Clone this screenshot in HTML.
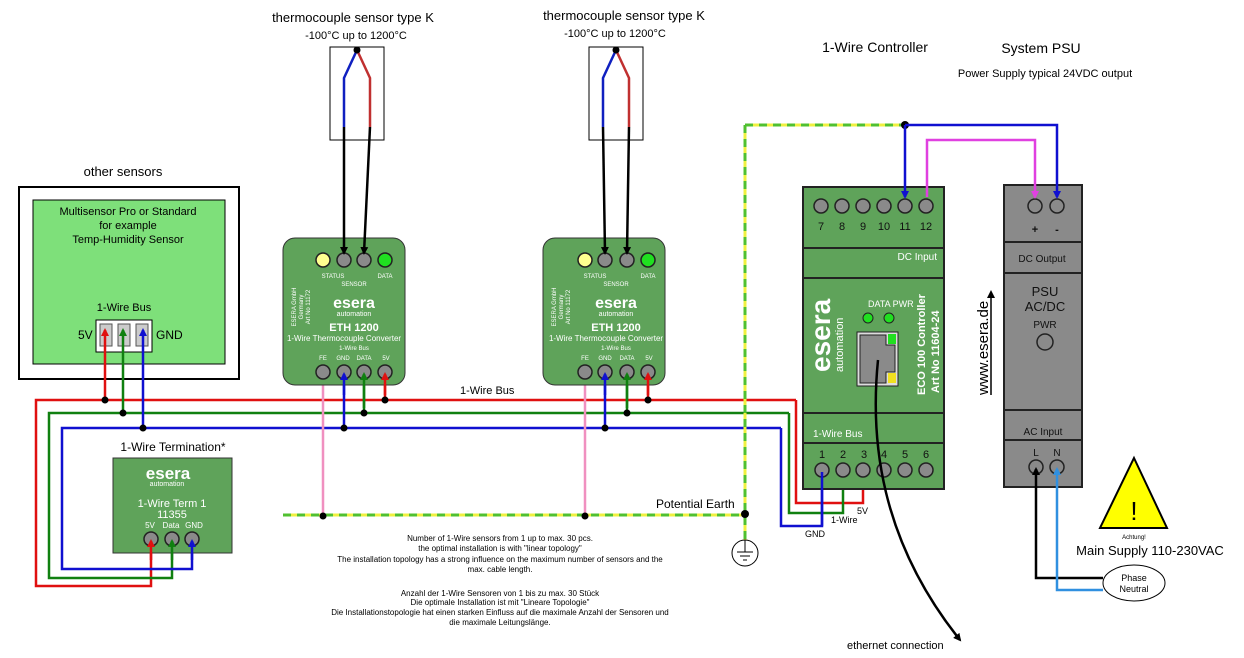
<!DOCTYPE html>
<html><head><meta charset="utf-8"><style>
html,body{margin:0;padding:0;background:#fff;width:1244px;height:658px;overflow:hidden}
svg{display:block;font-family:"Liberation Sans",sans-serif}
</style></head><body>
<svg width="1244" height="658" viewBox="0 0 1244 658" xmlns="http://www.w3.org/2000/svg">
<defs>
<marker id="ah" markerWidth="8" markerHeight="8" refX="6" refY="4" orient="auto" markerUnits="userSpaceOnUse"><path d="M0,0 L8,4 L0,8 z" fill="context-stroke"/></marker>
</defs>
<g font-size="13" text-anchor="middle" fill="#000">
<text x="353" y="22">thermocouple sensor type K</text>
<text x="356" y="39" font-size="11">-100°C up to 1200°C</text>
<text x="624" y="20">thermocouple sensor type K</text>
<text x="615" y="37" font-size="11">-100°C up to 1200°C</text>
<text x="875" y="52" font-size="14">1-Wire Controller</text>
<text x="1041" y="53" font-size="14">System PSU</text>
<text x="1045" y="77" font-size="11">Power Supply typical 24VDC output</text>
<text x="123" y="176">other sensors</text>
</g>
<rect x="19" y="187" width="220" height="192" fill="#fff" stroke="#000" stroke-width="2"/>
<rect x="33" y="200" width="192" height="164" fill="#7ee07a" stroke="#000"/>
<g font-size="11" text-anchor="middle"><text x="128" y="215">Multisensor Pro or Standard</text><text x="128" y="229">for example</text><text x="128" y="243">Temp-Humidity Sensor</text><text x="124" y="311">1-Wire Bus</text></g>
<text x="78" y="339" font-size="12">5V</text><text x="156" y="339" font-size="12">GND</text>
<rect x="96" y="320" width="56" height="32" fill="#fff" stroke="#000"/>
<rect x="100" y="324" width="12" height="22" fill="#ccc" stroke="#555"/><rect x="118" y="324" width="12" height="22" fill="#ccc" stroke="#555"/><rect x="136" y="324" width="12" height="22" fill="#ccc" stroke="#555"/>
<g stroke="#000" fill="#fff"><rect x="330" y="47" width="54" height="93"/><rect x="589" y="47" width="54" height="93"/></g>
<g fill="none" stroke-width="2.5">
<path d="M357,50 L344,78 L344,127" stroke="#1020c0"/><path d="M357,50 L370,78 L370,127" stroke="#c03030"/>
<path d="M616,50 L603,78 L603,127" stroke="#1020c0"/><path d="M616,50 L629,78 L629,127" stroke="#c03030"/>
</g>
<circle cx="357" cy="50" r="3.5" fill="#000"/><circle cx="616" cy="50" r="3.5" fill="#000"/>
<g fill="none" stroke-width="2.5">
<path d="M796,400 L36,400 L36,586 L151,586 L151,547" stroke="#e01010"/>
<path d="M789,413 L49,413 L49,578 L172,578 L172,547" stroke="#108010"/>
<path d="M781,428 L62,428 L62,569 L192,569 L192,547" stroke="#1010d0"/>
<path d="M796,400 L796,503 L863,503 L863,477" stroke="#e01010"/>
<path d="M789,413 L789,513 L843,513 L843,477" stroke="#108010"/>
<path d="M781,428 L781,526 L822,526 L822,477" stroke="#1010d0"/>
<path d="M105,400 L105,338" stroke="#e01010"/><path d="M123,413 L123,338" stroke="#108010"/><path d="M143,428 L143,338" stroke="#1010d0"/>
<path d="M385,400 L385,380" stroke="#e01010"/><path d="M364,413 L364,380" stroke="#108010"/><path d="M344,428 L344,380" stroke="#1010d0"/>
<path d="M648,400 L648,380" stroke="#e01010"/><path d="M627,413 L627,380" stroke="#108010"/><path d="M605,428 L605,380" stroke="#1010d0"/>
<path d="M323,516 L323,380" stroke="#f090c0"/><path d="M585,516 L585,380" stroke="#f090c0"/>
</g>
<text x="460" y="394" font-size="11">1-Wire Bus</text>
<g fill="none" stroke-width="3">
<path d="M283,515 L745,515 M745,125 L745,540 M745,125 L905,125" stroke="#f0f040"/>
<path d="M283,515 L745,515 M745,125 L745,540 M745,125 L905,125" stroke="#50c030" stroke-dasharray="8,6"/>
</g>
<g fill="#000"><circle cx="105" cy="400" r="3.5"/><circle cx="123" cy="413" r="3.5"/><circle cx="143" cy="428" r="3.5"/><circle cx="385" cy="400" r="3.5"/><circle cx="364" cy="413" r="3.5"/><circle cx="344" cy="428" r="3.5"/><circle cx="648" cy="400" r="3.5"/><circle cx="627" cy="413" r="3.5"/><circle cx="605" cy="428" r="3.5"/><circle cx="323" cy="516" r="3.5"/><circle cx="585" cy="516" r="3.5"/><circle cx="745" cy="514" r="4"/><circle cx="905" cy="125" r="4"/></g>
<circle cx="745" cy="553" r="13" fill="#fff" stroke="#000"/>
<path d="M745,540 L745,552 M737,552 L753,552 M740,556 L750,556 M743,560 L747,560" stroke="#000"/>
<text x="656" y="508" font-size="12">Potential Earth</text>
<rect x="283" y="238" width="122" height="147" rx="12" fill="#5fa35a" stroke="#333"/>
<rect x="543" y="238" width="122" height="147" rx="12" fill="#5fa35a" stroke="#333"/>
<g stroke="#222" stroke-width="1.5">
<circle cx="323" cy="260" r="7" fill="#ffff90"/><circle cx="344" cy="260" r="7" fill="#8a8a8a"/><circle cx="364" cy="260" r="7" fill="#8a8a8a"/><circle cx="385" cy="260" r="7" fill="#20e020"/>
<circle cx="585" cy="260" r="7" fill="#ffff90"/><circle cx="605" cy="260" r="7" fill="#8a8a8a"/><circle cx="627" cy="260" r="7" fill="#8a8a8a"/><circle cx="648" cy="260" r="7" fill="#20e020"/>
<circle cx="323" cy="372" r="7" fill="#8a8a8a"/><circle cx="344" cy="372" r="7" fill="#8a8a8a"/><circle cx="364" cy="372" r="7" fill="#8a8a8a"/><circle cx="385" cy="372" r="7" fill="#8a8a8a"/>
<circle cx="585" cy="372" r="7" fill="#8a8a8a"/><circle cx="605" cy="372" r="7" fill="#8a8a8a"/><circle cx="627" cy="372" r="7" fill="#8a8a8a"/><circle cx="648" cy="372" r="7" fill="#8a8a8a"/>
</g>
<g stroke="#000" stroke-width="2.5" marker-end="url(#ah)" fill="none"><path d="M344,127 L344,253"/><path d="M370,127 L364,253"/><path d="M603,127 L605,253"/><path d="M629,127 L627,253"/></g>
<g fill="#fff" text-anchor="middle">
<g font-size="6"><text x="333" y="278">STATUS</text><text x="385" y="278">DATA</text><text x="354" y="286">SENSOR</text><text x="595" y="278">STATUS</text><text x="648" y="278">DATA</text><text x="616" y="286">SENSOR</text>
<text x="354" y="350">1-Wire Bus</text><text x="616" y="350">1-Wire Bus</text>
<text x="323" y="360">FE</text><text x="343" y="360">GND</text><text x="364" y="360">DATA</text><text x="386" y="360">5V</text>
<text x="585" y="360">FE</text><text x="605" y="360">GND</text><text x="627" y="360">DATA</text><text x="649" y="360">5V</text></g>
<text x="354" y="308" font-size="16" font-weight="bold">esera</text><text x="354" y="316" font-size="7">automation</text>
<text x="354" y="331" font-size="11" font-weight="bold">ETH 1200</text><text x="344" y="341" font-size="8">1-Wire Thermocouple Converter</text>
<text x="616" y="308" font-size="16" font-weight="bold">esera</text><text x="616" y="316" font-size="7">automation</text>
<text x="616" y="331" font-size="11" font-weight="bold">ETH 1200</text><text x="606" y="341" font-size="8">1-Wire Thermocouple Converter</text>
</g>
<g fill="#fff" font-size="6" text-anchor="middle"><text transform="translate(296,307) rotate(-90)">ESERA GmbH</text><text transform="translate(303,307) rotate(-90)">Germany</text><text transform="translate(310,307) rotate(-90)">Art No 11172</text>
<text transform="translate(556,307) rotate(-90)">ESERA GmbH</text><text transform="translate(563,307) rotate(-90)">Germany</text><text transform="translate(570,307) rotate(-90)">Art No 11172</text></g>
<text x="173" y="451" font-size="12" text-anchor="middle">1-Wire Termination*</text>
<rect x="113" y="458" width="119" height="95" fill="#5fa35a" stroke="#333"/>
<g fill="#fff" text-anchor="middle"><text x="168" y="479" font-size="17" font-weight="bold">esera</text><text x="167" y="486" font-size="7">automation</text>
<text x="172" y="507" font-size="11">1-Wire Term 1</text><text x="172" y="518" font-size="11">11355</text>
<text x="150" y="528" font-size="8">5V</text><text x="171" y="528" font-size="8">Data</text><text x="194" y="528" font-size="8">GND</text></g>
<g stroke="#222" stroke-width="1.5" fill="#8a8a8a"><circle cx="151" cy="539" r="7"/><circle cx="172" cy="539" r="7"/><circle cx="192" cy="539" r="7"/></g>
<g stroke-width="2.5" marker-end="url(#ah)"><path d="M151,560 L151,541" stroke="#e01010"/><path d="M172,560 L172,541" stroke="#108010"/><path d="M192,560 L192,541" stroke="#1010d0"/>
<path d="M105,338 L105,330" stroke="#e01010"/><path d="M123,338 L123,330" stroke="#108010"/><path d="M143,338 L143,330" stroke="#1010d0"/>
<path d="M344,395 L344,374" stroke="#1010d0"/><path d="M364,408 L364,374" stroke="#108010"/><path d="M385,395 L385,374" stroke="#e01010"/>
<path d="M605,395 L605,374" stroke="#1010d0"/><path d="M627,408 L627,374" stroke="#108010"/><path d="M648,395 L648,374" stroke="#e01010"/></g>
<rect x="803" y="187" width="141" height="302" fill="#5fa35a" stroke="#222" stroke-width="2"/>
<path d="M803,248 H944 M803,278 H944 M803,413 H944 M803,443 H944" stroke="#222" stroke-width="2"/>
<g stroke="#222" stroke-width="1.5" fill="#8a8a8a">
<circle cx="821" cy="206" r="7"/><circle cx="842" cy="206" r="7"/><circle cx="863" cy="206" r="7"/><circle cx="884" cy="206" r="7"/><circle cx="905" cy="206" r="7"/><circle cx="926" cy="206" r="7"/>
<circle cx="822" cy="470" r="7"/><circle cx="843" cy="470" r="7"/><circle cx="863" cy="470" r="7"/><circle cx="884" cy="470" r="7"/><circle cx="905" cy="470" r="7"/><circle cx="926" cy="470" r="7"/>
</g>
<g font-size="11" text-anchor="middle" fill="#111"><text x="821" y="230">7</text><text x="842" y="230">8</text><text x="863" y="230">9</text><text x="884" y="230">10</text><text x="905" y="230">11</text><text x="926" y="230">12</text>
<text x="822" y="458">1</text><text x="843" y="458">2</text><text x="864" y="458">3</text><text x="884" y="458">4</text><text x="905" y="458">5</text><text x="926" y="458">6</text></g>
<g fill="#fff"><text x="937" y="260" font-size="10" text-anchor="end">DC Input</text><text x="813" y="437" font-size="10">1-Wire Bus</text>
<text x="868" y="307" font-size="9">DATA PWR</text>
<text transform="translate(830,372) rotate(-90)" font-size="28" font-weight="bold">esera</text>
<text transform="translate(843,372) rotate(-90)" font-size="11">automation</text>
<text transform="translate(925,395) rotate(-90)" font-size="11" font-weight="bold">ECO 100 Controller</text>
<text transform="translate(939,393) rotate(-90)" font-size="11" font-weight="bold">Art No 11604-24</text></g>
<circle cx="868" cy="318" r="5" fill="#20e020" stroke="#222"/><circle cx="889" cy="318" r="5" fill="#20e020" stroke="#222"/>
<rect x="857" y="332" width="41" height="54" fill="#ddd" stroke="#222"/>
<path d="M860,335 H886 V345 H895 V372 H886 V383 H860 Z" fill="#8a8a8a" stroke="#222"/>
<rect x="888" y="334" width="8" height="10" fill="#20e020"/><rect x="888" y="373" width="8" height="10" fill="#f0e020"/>
<path d="M878,360 C 870,440 880,540 960,640" fill="none" stroke="#000" stroke-width="2.5" marker-end="url(#ah)"/>
<text x="847" y="649" font-size="11">ethernet connection</text>
<g font-size="9"><text x="857" y="514">5V</text><text x="831" y="523">1-Wire</text><text x="805" y="537">GND</text></g>
<rect x="1004" y="185" width="78" height="302" fill="#8a8a8a" stroke="#222" stroke-width="2"/>
<path d="M1004,242 H1082 M1004,273 H1082 M1004,410 H1082 M1004,440 H1082" stroke="#222" stroke-width="2"/>
<g stroke="#222" stroke-width="1.5" fill="#8a8a8a"><circle cx="1035" cy="206" r="7"/><circle cx="1057" cy="206" r="7"/><circle cx="1036" cy="467" r="7"/><circle cx="1057" cy="467" r="7"/><circle cx="1045" cy="342" r="8" fill="none"/></g>
<g text-anchor="middle" fill="#111"><text x="1035" y="233" font-size="11" font-weight="bold">+</text><text x="1057" y="233" font-size="11" font-weight="bold">-</text>
<text x="1042" y="262" font-size="10">DC Output</text><text x="1045" y="296" font-size="13">PSU</text><text x="1045" y="311" font-size="13">AC/DC</text><text x="1045" y="328" font-size="10">PWR</text>
<text x="1043" y="435" font-size="10">AC Input</text><text x="1036" y="456" font-size="10">L</text><text x="1057" y="456" font-size="10">N</text></g>
<text transform="translate(988,395) rotate(-90)" font-size="15">www.esera.de</text>
<path d="M991,395 V292" stroke="#000" stroke-width="1.5" marker-end="url(#ah)"/>
<g fill="none" stroke-width="2.5">
<path d="M905,125 H1057 V197" stroke="#1010d0" marker-end="url(#ah)"/>
<path d="M905,125 V197" stroke="#1010d0" marker-end="url(#ah)"/>
<path d="M927,197 V140 H1035 V197" stroke="#e040e0" marker-end="url(#ah)"/>
<path d="M822,526 V472" stroke="#1010d0"/>
<path d="M1103,578 H1036 V469" stroke="#000" marker-end="url(#ah)"/>
<path d="M1103,590 H1057 V469" stroke="#3090e0" marker-end="url(#ah)"/>
</g>
<path d="M1134,458 L1167,528 L1100,528 Z" fill="#ffff00" stroke="#000" stroke-width="2"/>
<text x="1134" y="520" font-size="26" text-anchor="middle">!</text>
<text x="1134" y="539" font-size="6" text-anchor="middle">Achtung!</text>
<text x="1150" y="555" font-size="13" text-anchor="middle">Main Supply 110-230VAC</text>
<ellipse cx="1134" cy="583" rx="31" ry="18" fill="#fff" stroke="#000"/>
<text x="1134" y="581" font-size="9" text-anchor="middle">Phase</text><text x="1134" y="592" font-size="9" text-anchor="middle">Neutral</text>
<g font-size="8" text-anchor="middle"><text x="500" y="541">Number of 1-Wire sensors from 1 up to max. 30 pcs.</text><text x="500" y="551">the optimal installation is with "linear topology"</text><text x="500" y="562">The installation topology has a strong influence on the maximum number of sensors and the</text><text x="500" y="572">max. cable length.</text>
<text x="500" y="596">Anzahl der 1-Wire Sensoren von 1 bis zu max. 30 Stück</text><text x="500" y="605">Die optimale Installation ist mit "Lineare Topologie"</text><text x="500" y="615">Die Installationstopologie hat einen starken Einfluss auf die maximale Anzahl der Sensoren und</text><text x="500" y="625">die maximale Leitungslänge.</text></g>
</svg>
</body></html>
